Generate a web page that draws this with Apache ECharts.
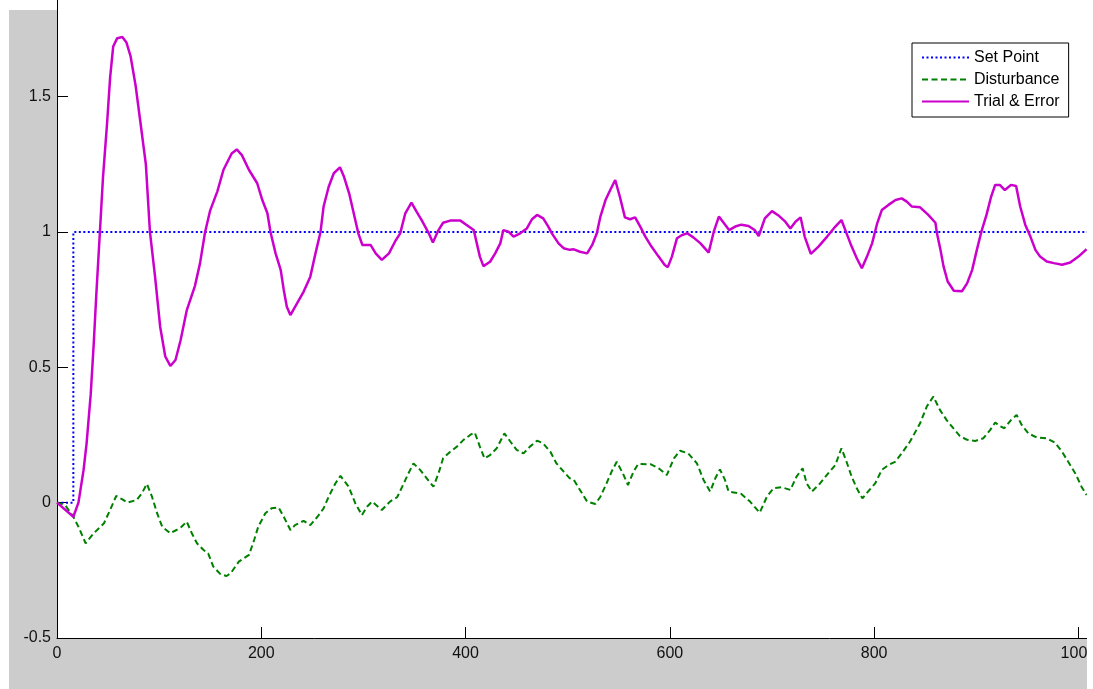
<!DOCTYPE html>
<html>
<head>
<meta charset="utf-8">
<script src="https://cdn.jsdelivr.net/npm/echarts@6/dist/echarts.min.js"></script>
<style>
  html, body { margin: 0; padding: 0; background: #fff; width: 1093px; height: 689px; overflow: hidden; }
  #frame { position: absolute; left: 9px; top: 10px; width: 1078px; height: 679px; background: #cccccc; }
  #chart { position: absolute; left: 0; top: 0; width: 1087px; height: 689px; }
</style>
</head>
<body>
<div id="frame"></div>
<div id="chart"></div>
<script>
// [time, value] pairs
const setPoint = [[0, 0], [16, 0], [16, 1], [1010, 1]]

const disturbance = [
  [0, 0], [8, -0.009], [16, -0.052], [21, -0.089], [28, -0.15], [36, -0.113], [46, -0.076],
  [52, -0.027], [58, 0.025], [64, 0.012], [69, 0], [78, 0.01], [83, 0.034], [88, 0.069],
  [93, 0.022], [98, -0.039], [103, -0.089], [111, -0.113], [117, -0.101], [122, -0.089],
  [127, -0.07], [132, -0.113], [137, -0.15], [143.5, -0.175], [148, -0.187], [153, -0.236],
  [160, -0.264], [166, -0.271], [170, -0.261], [178, -0.218], [188, -0.193], [193, -0.138],
  [197, -0.089], [204, -0.039], [210, -0.021], [217, -0.018], [222, -0.052], [228.5, -0.101],
  [233, -0.083], [241.5, -0.067], [248, -0.083], [255, -0.052], [261, -0.021], [266, 0.022],
  [272.5, 0.071], [277.5, 0.099], [285.5, 0.059], [292, -0.002], [298.5, -0.046],
  [303.5, -0.015], [308.5, 0.004], [318, -0.027], [326, 0.004], [333, 0.02], [338, 0.059],
  [344, 0.108], [349, 0.145], [355.5, 0.121], [362, 0.09], [368.5, 0.059], [373.5, 0.108],
  [378, 0.164], [385, 0.188], [391.5, 0.207], [398, 0.232], [404.5, 0.25], [409, 0.259],
  [414, 0.207], [418.5, 0.164], [424, 0.176], [430.5, 0.201], [438, 0.256], [444, 0.225],
  [450, 0.195], [456.7, 0.182], [463, 0.207], [470, 0.229], [476, 0.219], [483, 0.188],
  [489, 0.145], [496, 0.115], [502, 0.09], [506, 0.084], [512, 0.047], [519, 0.004],
  [527, -0.005], [532, 0.022], [538, 0.071], [543, 0.115], [548, 0.151], [554, 0.108],
  [559, 0.065], [564.5, 0.115], [569, 0.143], [581, 0.142], [589, 0.127], [597, 0.102],
  [604, 0.164], [610, 0.192], [618, 0.182], [626.5, 0.145], [633, 0.084], [639.5, 0.041],
  [644.5, 0.09], [649, 0.123], [654, 0.084], [657.5, 0.041], [664, 0.037], [670, 0.032],
  [678.5, 0.004], [688, -0.037], [695, 0.022], [701.5, 0.053], [709.5, 0.057], [718, 0.047],
  [724, 0.096], [730, 0.127], [734, 0.071], [739, 0.041], [747, 0.071], [755, 0.108],
  [762, 0.139], [768, 0.201], [773, 0.151], [778, 0.096], [783, 0.053], [788.5, 0.016],
  [794, 0.041], [801, 0.071], [807.5, 0.121], [814, 0.139], [820.5, 0.151], [827, 0.182],
  [835, 0.225], [845, 0.293], [851.5, 0.355], [858, 0.392], [864.5, 0.342], [871, 0.305],
  [877.5, 0.275], [884, 0.246], [891, 0.232], [899, 0.228], [907, 0.238], [913.5, 0.268],
  [918.5, 0.296], [923, 0.283], [927.5, 0.275], [934, 0.305], [939.5, 0.324], [944.5, 0.287],
  [951, 0.256], [959, 0.241], [969, 0.238], [977, 0.222], [984, 0.188], [990, 0.151],
  [997, 0.108], [1003, 0.059], [1008, 0.028]
]

const trialError = [
  [0, 0], [16, -0.052], [21, 0], [26, 0.12], [29, 0.22], [33, 0.4], [36, 0.59], [38.5, 0.77],
  [42, 1.0], [45, 1.2], [49, 1.4], [52, 1.57], [55, 1.685], [59, 1.716], [64, 1.72], [68, 1.7],
  [72, 1.65], [77, 1.54], [81.5, 1.41], [87, 1.25], [91, 1.0], [96, 0.835], [101, 0.65],
  [106, 0.54], [111, 0.505], [116, 0.527], [121, 0.6], [127, 0.71], [135, 0.8], [140, 0.884],
  [145, 1.0], [150, 1.08], [157, 1.15], [163, 1.23], [171, 1.29], [176, 1.305], [181, 1.284],
  [188, 1.229], [196, 1.18], [201, 1.118], [206, 1.069], [209, 1.0], [214, 0.921], [219, 0.86],
  [222, 0.786], [225, 0.724], [228.5, 0.693], [235, 0.736], [241.5, 0.78], [248, 0.835],
  [253, 0.92], [258, 1.0], [261, 1.094], [266, 1.167], [271, 1.217], [277, 1.239], [281, 1.204],
  [286, 1.143], [290.5, 1.069], [295, 0.995], [299, 0.952], [307, 0.952], [312, 0.921],
  [318, 0.897], [325, 0.921], [331, 0.965], [336, 0.995], [341, 1.069], [347, 1.108],
  [352, 1.075], [357, 1.044], [364, 0.995], [368, 0.961], [373.5, 1.007], [378, 1.034],
  [385, 1.042], [395, 1.042], [401, 1.026], [408, 1.007], [411, 0.958], [414, 0.909],
  [417.5, 0.874], [424, 0.89], [429, 0.921], [434, 0.958], [437, 1.007], [442, 1.001],
  [447, 0.983], [453.5, 0.995], [460, 1.013], [465, 1.047], [470, 1.063], [476, 1.05],
  [481, 1.02], [484.5, 0.995], [491, 0.958], [496, 0.94], [502, 0.934], [506, 0.936],
  [512, 0.927], [519, 0.921], [524, 0.952], [528.5, 0.995], [532, 1.057], [537, 1.118],
  [542, 1.158], [546.5, 1.192], [551, 1.131], [556, 1.054], [561, 1.047], [566, 1.054],
  [571, 1.02], [576, 0.983], [582, 0.946], [589, 0.909], [595, 0.878], [598, 0.87],
  [602, 0.909], [607, 0.977], [612, 0.989], [617, 0.995], [623, 0.98], [630, 0.958],
  [638, 0.924], [643, 1.001], [648, 1.057], [653, 1.032], [658, 1.007], [664, 1.02],
  [670, 1.027], [677, 1.022], [683, 1.007], [687, 0.985], [693, 1.05], [700, 1.077],
  [706, 1.062], [713, 1.038], [718, 1.013], [723, 1.038], [728, 1.054], [732, 0.983],
  [738, 0.919], [745.5, 0.946], [754, 0.983], [762, 1.02], [768, 1.044], [773, 0.995],
  [778, 0.946], [783, 0.903], [788, 0.866], [793, 0.909], [798, 0.958], [803, 1.032],
  [807.5, 1.081], [814, 1.1], [821, 1.118], [827, 1.124], [832, 1.112], [837, 1.094],
  [845, 1.091], [853, 1.063], [860, 1.034], [861.5, 0.995], [865, 0.933], [868, 0.872],
  [872, 0.817], [878, 0.783], [886, 0.781], [891, 0.81], [896, 0.86], [900.5, 0.933],
  [905, 1.001], [910, 1.063], [914.5, 1.13], [918.5, 1.174], [923, 1.174], [928, 1.155],
  [934, 1.174], [939, 1.17], [943, 1.094], [948, 1.026], [953, 0.983], [958, 0.933],
  [962.5, 0.909], [969, 0.891], [976, 0.885], [984, 0.879], [992, 0.887], [1000, 0.909],
  [1008, 0.936]
]

const seriesNames = ['Set Point', 'Disturbance', 'Trial & Error']

const font = "'Liberation Sans', Arial, sans-serif"
const chart = echarts.init(document.getElementById('chart'), null, { renderer: 'canvas' })

chart.setOption({
  animation: false,
  backgroundColor: 'transparent',
  grid: {
    left: 57, right: 0, top: 0, bottom: 51,
    containLabel: false,
    outerBoundsMode: 'none',
    show: true, backgroundColor: '#fff', borderWidth: 0
  },
  legend: {
    data: seriesNames,
    orient: 'vertical',
    left: 912, top: 43,
    padding: [6, 9, 7, 9],
    itemGap: 5,
    itemWidth: 47,
    itemHeight: 14,
    backgroundColor: '#fff',
    borderColor: '#000',
    borderWidth: 1,
    borderRadius: 0,
    itemStyle: { opacity: 0 },
    textStyle: { fontFamily: font, fontSize: 16, color: '#000', lineHeight: 17 }
  },
  xAxis: {
    type: 'value',
    min: 0, max: 1008.4, interval: 200,
    splitLine: { show: false },
    axisLine: { onZero: false, lineStyle: { color: '#000', width: 1 } },
    axisTick: { inside: true, length: 11, lineStyle: { color: '#000' } },
    axisLabel: {
      showMaxLabel: false, margin: 8, color: '#111', fontFamily: font, fontSize: 16,
      formatter: (v) => String(v)
    }
  },
  yAxis: {
    type: 'value',
    min: -0.5, max: 1.857, interval: 0.5,
    splitLine: { show: false },
    axisLine: { show: true, onZero: false, lineStyle: { color: '#000', width: 1 } },
    axisTick: { show: true, inside: true, length: 11, lineStyle: { color: '#000' } },
    axisLabel: { showMaxLabel: false, margin: 6, color: '#111', fontFamily: font, fontSize: 16 }
  },
  series: [
    {
      name: seriesNames[0], type: 'line', data: setPoint, symbol: 'none',
      lineStyle: { color: '#0000ff', width: 2, type: [2, 2.5] }, itemStyle: { color: '#0000ff' }
    },
    {
      name: seriesNames[1], type: 'line', data: disturbance, symbol: 'none',
      lineStyle: { color: '#008000', width: 2, type: [6, 3.5] }, itemStyle: { color: '#008000' }
    },
    {
      name: seriesNames[2], type: 'line', data: trialError, symbol: 'none',
      lineStyle: { color: '#cc00cc', width: 2.5 }, itemStyle: { color: '#cc00cc' }
    }
  ]
})
</script>
</body>
</html>
